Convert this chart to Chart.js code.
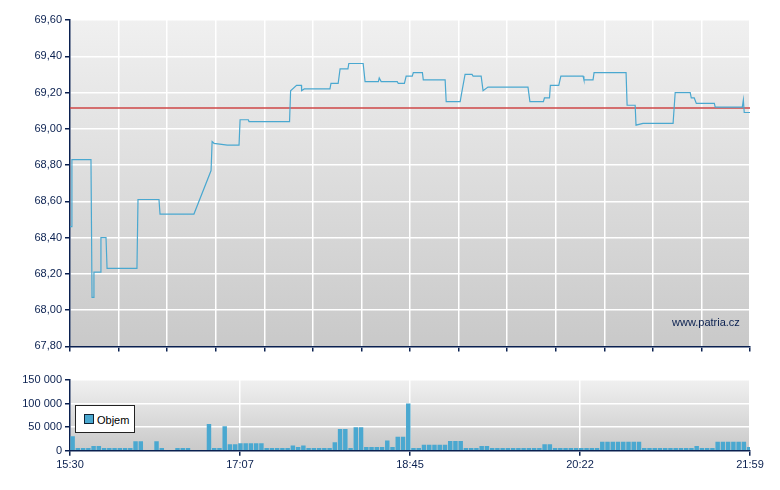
<!DOCTYPE html>
<html>
<head>
<meta charset="utf-8">
<script src="https://cdn.jsdelivr.net/npm/chart.js@4"></script>
<style>
body { margin:0; background:#fff; font-family:"Liberation Sans", Arial, sans-serif; }
#wrap { position:relative; width:780px; height:490px; }
#main { position:absolute; left:0; top:0; }
#vol { position:absolute; left:0; top:360px; }
#mark { position:absolute; left:672px; top:316px; font-size:11px; color:#0a2050; }
#legend { position:absolute; left:75px; top:405px; width:58px; height:26px; border:1px solid #222; background:#fff; font-size:11px; color:#000; }
#legend span { display:inline-block; width:8px; height:8px; background:#4aa8d0; border:1px solid #123; margin:8px 3px 0 8px; }
</style>
</head>
<body>
<div id="wrap">
  <canvas id="main" width="780" height="356"></canvas>
  <canvas id="vol" width="780" height="115"></canvas>
  <div id="mark">www.patria.cz</div>
  <div id="legend"><span></span>Objem</div>
</div>
<script>
// minutes since 15:30
const priceTimes = [0,0.6,1.1,12.0,12.6,13.2,13.7,17.2,17.7,20.6,21.2,38.3,38.9,50.9,51.5,70.9,80.7,81.3,82.4,90.0,96.7,97.3,102,102.4,125.6,126.2,129.6,132.4,132.5,134,148.7,149.3,153.4,154.5,159,159.5,167.7,168.8,176.4,176.9,178,187.2,187.8,191.3,192.3,195.8,196.4,201.6,202.1,214.6,215.2,223.2,224.3,226,230,230.6,235.2,236.3,239.1,262,263.1,270.8,271.4,274.3,274.8,279.6,280.8,293.5,294,299.2,299.8,318.1,318.7,323.3,323.8,327.8,345,346.2,354.8,355.4,357.1,358.3,368.6,369.1,384.6,385.2,385.7,389];
const prices = [68.46,68.46,68.83,68.83,68.07,68.07,68.21,68.21,68.40,68.40,68.23,68.23,68.61,68.61,68.53,68.53,68.77,68.93,68.92,68.91,68.91,69.05,69.05,69.04,69.04,69.21,69.24,69.24,69.21,69.22,69.22,69.25,69.25,69.33,69.33,69.36,69.36,69.26,69.26,69.28,69.26,69.26,69.25,69.25,69.29,69.29,69.31,69.31,69.27,69.27,69.15,69.15,69.21,69.30,69.30,69.29,69.29,69.21,69.23,69.23,69.15,69.15,69.17,69.17,69.24,69.24,69.29,69.29,69.27,69.27,69.31,69.31,69.13,69.13,69.02,69.03,69.03,69.20,69.20,69.17,69.17,69.14,69.14,69.12,69.12,69.16,69.09,69.09];
const prevClose = 69.115;

// volume per 3-minute slot, in thousands
const volumes = [31,6,6,6,10,10,6,6,6,6,6,6,20,20,0,0,20,6,0,0,
  6,6,6,0,0,0,57,6,6,52,14,14,16,16,16,16,16,6,6,6,
  6,6,11,8,11,6,6,6,6,6,18,46,46,6,50,50,8,8,8,8,
  22,8,30,30,100,6,6,13,13,13,13,13,21,21,21,6,6,6,10,10,
  6,6,6,6,6,6,6,6,6,6,14,14,6,6,6,6,6,6,6,6,
  6,19,19,19,19,19,19,19,19,6,6,6,6,6,6,6,6,6,6,10,
  6,6,6,19,19,19,19,19,19,8];
const timeLabels = ['15:30','17:07','18:45','20:22','21:59'];
const totalMin = 389;

const navy = '#0a2050';
const tickFont = { family: '"Liberation Sans", Arial, sans-serif', size: 11 };

const bgPlugin = {
  id: 'bg',
  beforeDraw(chart) {
    const a = chart.chartArea, c = chart.ctx;
    const g = c.createLinearGradient(0, a.top, 0, a.bottom);
    g.addColorStop(0, '#f0f0f0');
    g.addColorStop(1, '#c9c9c9');
    c.save(); c.fillStyle = g; c.fillRect(a.left, a.top, a.right - a.left, a.bottom - a.top); c.restore();
  }
};

function fixWidth(s) { s.width = 70; }

new Chart(document.getElementById('main'), {
  type: 'line',
  data: {
    datasets: [{
      data: priceTimes.map((t, i) => ({ x: t, y: prices[i] })),
      borderColor: '#4aa8d0', borderWidth: 1.2, pointRadius: 0, tension: 0, order: 1
    }, {
      data: [{ x: 0, y: prevClose }, { x: totalMin, y: prevClose }],
      borderColor: 'rgba(205,70,70,0.75)', borderWidth: 2, pointRadius: 0, order: 2
    }]
  },
  options: {
    responsive: false, animation: false,
    layout: { padding: { top: 20, right: 30, left: 0, bottom: 0 } },
    plugins: { legend: { display: false }, tooltip: { enabled: false } },
    scales: {
      x: {
        type: 'linear', min: 0, max: totalMin,
        afterBuildTicks(s) { s.ticks = Array.from({ length: 15 }, (_, k) => ({ value: k * totalMin / 14 })); },
        ticks: { display: false },
        grid: { color: '#fff', lineWidth: 1.5, tickColor: navy, tickLength: 5 },
        border: { color: navy, width: 1.5 }
      },
      y: {
        min: 67.8, max: 69.6, afterFit: fixWidth,
        ticks: { stepSize: 0.2, color: navy, font: tickFont, callback: v => v.toFixed(2).replace('.', ',') },
        grid: { color: '#fff', lineWidth: 1.5, tickColor: navy, tickLength: 5 },
        border: { color: navy, width: 1.5 }
      }
    }
  },
  plugins: [bgPlugin]
});

new Chart(document.getElementById('vol'), {
  type: 'bar',
  data: {
    datasets: [{
      data: volumes.map((v, i) => ({ x: i * 3 + 1.5, y: v * 1000 })),
      backgroundColor: '#4aa8d0', barPercentage: 0.85, categoryPercentage: 1
    }]
  },
  options: {
    responsive: false, animation: false,
    layout: { padding: { top: 20, right: 30, left: 0, bottom: 0 } },
    plugins: { legend: { display: false }, tooltip: { enabled: false } },
    scales: {
      x: {
        type: 'linear', min: 0, max: totalMin, offset: false,
        afterBuildTicks(s) { s.ticks = timeLabels.map((_, k) => ({ value: k * totalMin / 4 })); },
        ticks: { color: navy, font: tickFont, maxRotation: 0, autoSkip: false, callback: (v, i) => timeLabels[i] },
        grid: { offset: false, color: '#fff', lineWidth: 1.5, tickColor: navy, tickLength: 5 },
        border: { color: navy, width: 1.5 }
      },
      y: {
        min: 0, max: 150000, afterFit: fixWidth,
        ticks: { stepSize: 50000, color: navy, font: tickFont, callback: v => v === 0 ? '0' : String(v).replace(/\B(?=(\d{3})+(?!\d))/g, ' ') },
        grid: { color: '#fff', lineWidth: 1.5, tickColor: navy, tickLength: 5 },
        border: { color: navy, width: 1.5 }
      }
    }
  },
  plugins: [bgPlugin]
});
</script>
</body>
</html>
